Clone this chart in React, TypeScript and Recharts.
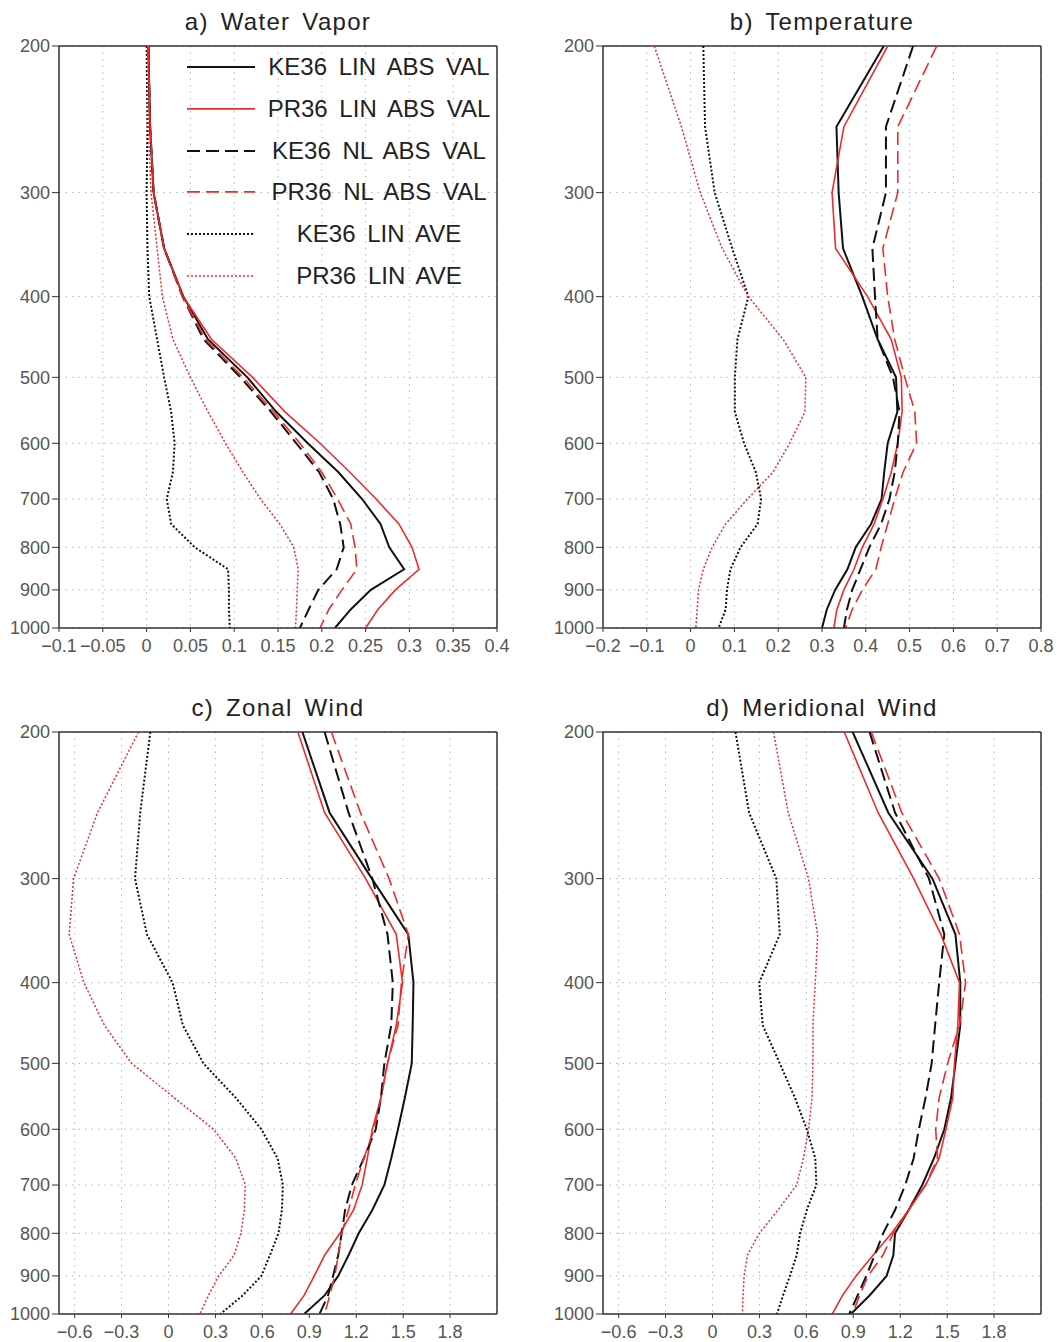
import {
    CartesianGrid,
    Legend,
    Line,
    LineChart,
    ReferenceLine,
    XAxis,
    YAxis,
} from "recharts";

// pressure levels (hPa), top of the profile first
const LEVELS = [200, 250, 300, 350, 400, 450, 500, 550, 600, 650, 700, 750, 800, 850, 900, 950, 1000];
const PRESSURE_TICKS = [200, 300, 400, 500, 600, 700, 800, 900, 1000];

const WV_TICKS = [-0.1, -0.05, 0, 0.05, 0.1, 0.15, 0.2, 0.25, 0.3, 0.35, 0.4];
const T_TICKS = [-0.2, -0.1, 0, 0.1, 0.2, 0.3, 0.4, 0.5, 0.6, 0.7, 0.8];
const WIND_TICKS = [-0.6, -0.3, 0, 0.3, 0.6, 0.9, 1.2, 1.5, 1.8];

// a) water vapor
const WV_KE_LIN_ABS = [0.002, 0.004, 0.008, 0.02, 0.042, 0.07, 0.115, 0.148, 0.184, 0.219, 0.246, 0.267, 0.277, 0.294, 0.256, 0.233, 0.215];
const WV_PR_LIN_ABS = [0.002, 0.004, 0.008, 0.02, 0.042, 0.074, 0.121, 0.158, 0.198, 0.232, 0.262, 0.288, 0.303, 0.311, 0.284, 0.264, 0.25];
const WV_KE_NL_ABS = [0.002, 0.004, 0.008, 0.02, 0.041, 0.065, 0.107, 0.142, 0.171, 0.197, 0.213, 0.221, 0.225, 0.217, 0.196, 0.185, 0.175];
const WV_PR_NL_ABS = [0.002, 0.004, 0.008, 0.02, 0.041, 0.067, 0.11, 0.145, 0.175, 0.2, 0.218, 0.233, 0.238, 0.24, 0.223, 0.208, 0.198];
const WV_KE_LIN_AVE = [0, 0.001, 0, 0.001, 0.003, 0.012, 0.02, 0.028, 0.032, 0.03, 0.023, 0.028, 0.055, 0.093, 0.094, 0.094, 0.095];
const WV_PR_LIN_AVE = [0.001, 0.002, 0.005, 0.012, 0.018, 0.03, 0.05, 0.07, 0.09, 0.11, 0.13, 0.152, 0.168, 0.173, 0.172, 0.171, 0.17];

// b) temperature
const T_KE_LIN_ABS = [0.441, 0.333, 0.338, 0.348, 0.392, 0.427, 0.469, 0.472, 0.45, 0.442, 0.436, 0.412, 0.377, 0.358, 0.33, 0.311, 0.3];
const T_PR_LIN_ABS = [0.45, 0.35, 0.323, 0.331, 0.404, 0.458, 0.481, 0.483, 0.473, 0.458, 0.439, 0.419, 0.392, 0.373, 0.35, 0.334, 0.327];
const T_KE_NL_ABS = [0.508, 0.446, 0.446, 0.415, 0.421, 0.427, 0.462, 0.477, 0.473, 0.466, 0.454, 0.435, 0.408, 0.388, 0.369, 0.357, 0.35];
const T_PR_NL_ABS = [0.562, 0.473, 0.473, 0.439, 0.45, 0.466, 0.489, 0.512, 0.516, 0.485, 0.466, 0.45, 0.435, 0.423, 0.392, 0.369, 0.354];
const T_KE_LIN_AVE = [0.029, 0.033, 0.055, 0.095, 0.132, 0.107, 0.101, 0.101, 0.122, 0.149, 0.161, 0.153, 0.114, 0.091, 0.083, 0.08, 0.064];
const T_PR_LIN_AVE = [-0.083, -0.021, 0.022, 0.072, 0.132, 0.211, 0.263, 0.261, 0.226, 0.188, 0.13, 0.08, 0.049, 0.029, 0.018, 0.015, 0.012];

// c) zonal wind
const U_KE_LIN_ABS = [0.856, 1.03, 1.3, 1.533, 1.566, 1.561, 1.555, 1.511, 1.467, 1.424, 1.38, 1.303, 1.216, 1.151, 1.085, 0.998, 0.867];
const U_PR_LIN_ABS = [0.827, 0.998, 1.26, 1.456, 1.496, 1.456, 1.4, 1.358, 1.303, 1.271, 1.238, 1.183, 1.096, 0.998, 0.932, 0.867, 0.78];
const U_KE_NL_ABS = [0.998, 1.151, 1.303, 1.4, 1.434, 1.424, 1.38, 1.358, 1.325, 1.249, 1.172, 1.129, 1.107, 1.085, 1.052, 1.02, 0.965];
const U_PR_NL_ABS = [1.041, 1.227, 1.41, 1.533, 1.489, 1.467, 1.4, 1.358, 1.314, 1.249, 1.194, 1.151, 1.107, 1.085, 1.063, 1.031, 0.998];
const U_KE_LIN_AVE = [-0.116, -0.181, -0.214, -0.138, 0.026, 0.092, 0.223, 0.43, 0.594, 0.697, 0.731, 0.725, 0.703, 0.648, 0.594, 0.474, 0.332];
const U_PR_LIN_AVE = [-0.192, -0.454, -0.607, -0.635, -0.541, -0.41, -0.236, 0.037, 0.288, 0.43, 0.491, 0.485, 0.463, 0.419, 0.321, 0.255, 0.2];

// d) meridional wind
const V_KE_LIN_ABS = [0.896, 1.124, 1.406, 1.553, 1.584, 1.584, 1.553, 1.525, 1.482, 1.416, 1.341, 1.254, 1.167, 1.156, 1.113, 1.004, 0.885];
const V_PR_LIN_ABS = [0.842, 1.059, 1.286, 1.46, 1.579, 1.568, 1.547, 1.536, 1.492, 1.449, 1.362, 1.254, 1.145, 1.026, 0.918, 0.831, 0.766];
const V_KE_NL_ABS = [1.004, 1.167, 1.384, 1.482, 1.449, 1.423, 1.401, 1.362, 1.319, 1.286, 1.232, 1.167, 1.091, 1.037, 0.983, 0.928, 0.874];
const V_PR_NL_ABS = [1.015, 1.21, 1.449, 1.579, 1.618, 1.579, 1.503, 1.449, 1.427, 1.438, 1.362, 1.254, 1.156, 1.089, 0.994, 0.94, 0.896];
const V_KE_LIN_AVE = [0.147, 0.234, 0.408, 0.43, 0.299, 0.321, 0.43, 0.527, 0.603, 0.657, 0.664, 0.603, 0.56, 0.538, 0.495, 0.451, 0.412];
const V_PR_LIN_AVE = [0.39, 0.484, 0.614, 0.672, 0.657, 0.642, 0.642, 0.636, 0.614, 0.581, 0.538, 0.419, 0.299, 0.223, 0.202, 0.195, 0.191];

const BLACK = "#111111";
const RED = "#ee2b2b";
const FONT = "'Liberation Sans', Arial, sans-serif";

const SERIES = [
    { key: "keLinAbs", name: "KE36 LIN ABS VAL", color: BLACK, width: 2, dash: undefined },
    { key: "prLinAbs", name: "PR36 LIN ABS VAL", color: RED, width: 1.6, dash: undefined },
    { key: "keNlAbs", name: "KE36 NL ABS VAL", color: BLACK, width: 2, dash: "13 6" },
    { key: "prNlAbs", name: "PR36 NL ABS VAL", color: RED, width: 1.6, dash: "13 6" },
    { key: "keLinAve", name: "KE36 LIN AVE", color: BLACK, width: 2, dash: "2 2" },
    { key: "prLinAve", name: "PR36 LIN AVE", color: RED, width: 1.5, dash: "2 2" },
];

const PANELS = [
    {
        title: "a) Water Vapor",
        values: [WV_KE_LIN_ABS, WV_PR_LIN_ABS, WV_KE_NL_ABS, WV_PR_NL_ABS, WV_KE_LIN_AVE, WV_PR_LIN_AVE],
        domain: [-0.1, 0.4],
        ticks: WV_TICKS,
        left: 0, top: 0, width: 530, height: 665,
        plotLeft: 59, plotWidth: 438, plotTop: 46, plotHeight: 582,
        legend: true,
    },
    {
        title: "b) Temperature",
        values: [T_KE_LIN_ABS, T_PR_LIN_ABS, T_KE_NL_ABS, T_PR_NL_ABS, T_KE_LIN_AVE, T_PR_LIN_AVE],
        domain: [-0.2, 0.8],
        ticks: T_TICKS,
        left: 544, top: 0, width: 517, height: 665,
        plotLeft: 59, plotWidth: 438, plotTop: 46, plotHeight: 582,
        legend: false,
    },
    {
        title: "c) Zonal Wind",
        values: [U_KE_LIN_ABS, U_PR_LIN_ABS, U_KE_NL_ABS, U_PR_NL_ABS, U_KE_LIN_AVE, U_PR_LIN_AVE],
        domain: [-0.7, 2.1],
        ticks: WIND_TICKS,
        left: 0, top: 686, width: 530, height: 656,
        plotLeft: 59, plotWidth: 438, plotTop: 46, plotHeight: 582,
        legend: false,
    },
    {
        title: "d) Meridional Wind",
        values: [V_KE_LIN_ABS, V_PR_LIN_ABS, V_KE_NL_ABS, V_PR_NL_ABS, V_KE_LIN_AVE, V_PR_LIN_AVE],
        domain: [-0.7, 2.1],
        ticks: WIND_TICKS,
        left: 544, top: 686, width: 517, height: 656,
        plotLeft: 59, plotWidth: 438, plotTop: 46, plotHeight: 582,
        legend: false,
    },
];

const formatTick = (v: number) => (v < 0 ? "\u2212" + String(Math.abs(v)) : String(v));

const tickStyle = { fill: "#555", fontSize: 18, fontFamily: FONT };

function LegendBox({ payload }: any) {
    const rowH = 41.8;
    const names = (payload || []).map((entry: any) => entry.value);
    // keep the order the series are declared in
    const items = SERIES.filter((s) => names.includes(s.name));
    return (
        <div style={{ width: 320 }}>
            {items.map((s) => (
                <div key={s.key} style={{ position: "relative", height: rowH }}>
                    <svg width={80} height={rowH} style={{ position: "absolute", left: 0, top: 0 }}>
                        <line
                            x1={7}
                            x2={75}
                            y1={rowH / 2}
                            y2={rowH / 2}
                            stroke={s.color}
                            strokeWidth={s.width}
                            strokeDasharray={s.dash}
                        />
                    </svg>
                    <div
                        style={{
                            position: "absolute",
                            left: 87,
                            width: 224,
                            top: 0,
                            lineHeight: rowH + "px",
                            textAlign: "center",
                            fontFamily: FONT,
                            fontSize: 24,
                            color: "#222",
                            wordSpacing: 5,
                            whiteSpace: "nowrap",
                        }}
                    >
                        {s.name}
                    </div>
                </div>
            ))}
        </div>
    );
}

function Panel({ panel }: { panel: any }) {
    const rows = LEVELS.map((p, i) => {
        const row: any = { p };
        SERIES.forEach((s, j) => {
            row[s.key] = panel.values[j][i];
        });
        return row;
    });

    const xMax = panel.domain[1];

    return (
        <div
            style={{
                position: "absolute",
                left: panel.left,
                top: panel.top,
                width: panel.width,
                height: panel.height,
            }}
        >
            <div
                style={{
                    position: "absolute",
                    left: panel.plotLeft,
                    width: panel.plotWidth,
                    top: 8,
                    textAlign: "center",
                    fontFamily: FONT,
                    fontSize: 24,
                    letterSpacing: 1.3,
                    wordSpacing: 4,
                    color: "#222",
                    lineHeight: "28px",
                }}
            >
                {panel.title}
            </div>
            <LineChart
                width={panel.width}
                height={panel.height}
                layout="vertical"
                data={rows}
                margin={{
                    top: panel.plotTop,
                    right: panel.width - panel.plotLeft - panel.plotWidth,
                    bottom: 0,
                    left: 0,
                }}
            >
                <CartesianGrid stroke="#b5b5b5" strokeDasharray="1.5 5" />
                <XAxis
                    type="number"
                    domain={panel.domain}
                    ticks={panel.ticks}
                    interval={0}
                    allowDataOverflow
                    height={panel.height - panel.plotTop - panel.plotHeight}
                    tick={tickStyle}
                    tickFormatter={formatTick}
                    tickSize={4}
                    tickMargin={7}
                    stroke="#333"
                    axisLine={{ stroke: "#333", strokeWidth: 1.5 }}
                />
                <YAxis
                    type="number"
                    dataKey="p"
                    scale="log"
                    domain={[200, 1000]}
                    ticks={PRESSURE_TICKS}
                    interval={0}
                    allowDataOverflow
                    width={panel.plotLeft}
                    tick={tickStyle}
                    tickSize={7}
                    tickMargin={2}
                    stroke="#333"
                    axisLine={{ stroke: "#333", strokeWidth: 1.5 }}
                />
                <ReferenceLine y={200} stroke="#333" strokeWidth={1.5} />
                <ReferenceLine x={xMax} stroke="#333" strokeWidth={1.5} />
                {SERIES.map((s) => (
                    <Line
                        key={s.key}
                        dataKey={s.key}
                        name={s.name}
                        type="linear"
                        stroke={s.color}
                        strokeWidth={s.width}
                        strokeDasharray={s.dash}
                        dot={false}
                        isAnimationActive={false}
                    />
                ))}
                {panel.legend && (
                    <Legend
                        layout="vertical"
                        align="center"
                        verticalAlign="middle"
                        content={LegendBox}
                        wrapperStyle={{ left: 180, top: 46, width: 320, height: 252 }}
                    />
                )}
            </LineChart>
        </div>
    );
}

export default function App() {
    return (
        <div
            style={{
                position: "absolute",
                left: 0,
                top: 0,
                width: 1061,
                height: 1342,
                background: "#fff",
                overflow: "hidden",
            }}
        >
            {PANELS.map((panel) => (
                <Panel key={panel.title} panel={panel} />
            ))}
        </div>
    );
}
